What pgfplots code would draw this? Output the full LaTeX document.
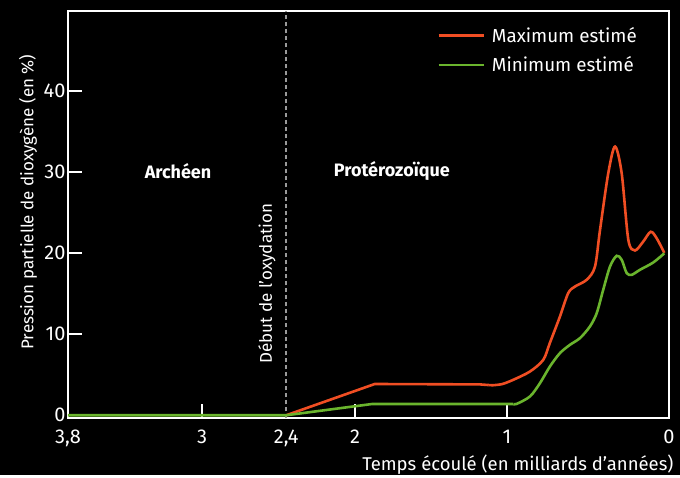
\documentclass[border=0pt]{standalone}
\usepackage{fontspec}
\setmainfont{Fira Sans}
\usepackage{pgfplots}
\pgfplotsset{compat=1.18}
\definecolor{maxc}{HTML}{F04E23}
\definecolor{minc}{HTML}{6AB42D}
\definecolor{dashc}{HTML}{9A9A9A}
\begin{document}
\begin{tikzpicture}
\fill[black] (-68pt,-56.5pt) rectangle (612pt,418.5pt);
\begin{axis}[
  at={(0,0)}, anchor=south west,
  scale only axis, width=601pt, height=407.5pt,
  x coord trafo/.code={\pgfmathparse{#1<=1 ? 162*#1 : (#1<=2 ? 162+152*(#1-1) : (#1<=2.4 ? 314+172*(#1-2) : (#1<=3 ? 383+140*(#1-2.4) : 467+167.5*(#1-3))))}},
  x dir=reverse,
  xmin=0, xmax=3.8, ymin=-0.4, ymax=49.8,
  axis line style={white, line width=2pt},
  xtick={0,1,2,3,3.8}, xticklabels={0,1,2,3,3{,}8},
  extra x ticks={2.4}, extra x tick labels={2{,}4},
  extra x tick style={major tick length=0pt},
  ytick={10,20,30,40},
  extra y ticks={0}, extra y tick style={major tick length=0pt},
  tick align=inside, major tick length=14pt,
  tick style={white, line width=2pt},
  xtick pos=bottom, ytick pos=left,
  /pgf/number format/assume math mode=true,
  ticklabel style={font=\fontsize{20}{20}\selectfont, text=white},
  xticklabel style={yshift=-8pt},
  yticklabel style={xshift=1pt},
  xlabel={Temps écoulé (en milliards d’années)},
  xlabel style={font=\fontsize{18.5}{18.5}\selectfont, text=white, at={(rel axis cs:1,0)}, anchor=north east, yshift=-33pt, xshift=8pt},
  ylabel={Pression partielle de dioxygène (en \%)},
  ylabel style={font=\fontsize{17}{17}\selectfont, text=white, at={([xshift=-40pt]rel axis cs:0,0.531)}, anchor=center},
  legend style={draw=none, fill=none, text=white, font=\fontsize{18.8}{18.8}\selectfont,
    at={(1,1)}, anchor=north east, xshift=-22pt, yshift=-12pt, row sep=9pt,
    legend cell align=left, nodes={inner xsep=7pt}},
  legend image code/.code={\draw[#1] (0pt,0pt) -- (45pt,0pt);},
]
\addplot[dashc, line width=2pt, dash pattern=on 4pt off 3pt, forget plot] coordinates {(2.4,-0.4) (2.4,49.8)};

% Maximum estimé
\addplot[maxc, line width=2.6pt, forget plot] coordinates {
(2.4,0) (1.87,3.85) (1.178,3.8) (1.12,3.72)
};
\addplot[maxc, line width=2.6pt, smooth, tension=0.5] coordinates {
(1.12,3.72) (1.092,3.70) (1.03,3.85) (0.961,4.37) (0.858,5.39) (0.776,6.83) (0.735,8.93)
(0.673,12.17) (0.622,15.05) (0.580,15.86) (0.508,16.69) (0.457,18.3)
(0.426,22.8) (0.375,29.8) (0.333,33.1) (0.292,29.8) (0.251,21.6)
(0.210,20.3) (0.159,21.4) (0.113,22.6) (0.076,21.8) (0.029,20.0)
};
% Minimum estimé
\addplot[minc, line width=2.6pt, forget plot] coordinates {
(3.8,0) (2.4,0) (1.89,1.38) (0.96,1.38)
};
\addplot[minc, line width=2.6pt, smooth, tension=0.5] coordinates {
(0.96,1.38) (0.940,1.40) (0.858,2.32) (0.796,3.97) (0.735,6.01) (0.673,7.66)
(0.611,8.68) (0.549,9.51) (0.488,10.94) (0.446,12.59) (0.406,15.46)
(0.364,18.33) (0.323,19.64) (0.292,19.15) (0.261,17.51) (0.230,17.30)
(0.179,17.92) (0.097,18.82) (0.029,19.95)
};
\legend{Maximum estimé, Minimum estimé}

\node[text=white, font=\bfseries\fontsize{18}{18}\selectfont] at (axis cs:3.143,30.1) {Archéen};
\node[text=white, font=\bfseries\fontsize{18}{18}\selectfont] at (axis cs:1.757,30.1) {Protérozoïque};
\node[text=white, font=\fontsize{17}{17}\selectfont, rotate=90] at (axis cs:2.536,16.2) {Début de l’oxydation};
\end{axis}
\end{tikzpicture}
\end{document}
